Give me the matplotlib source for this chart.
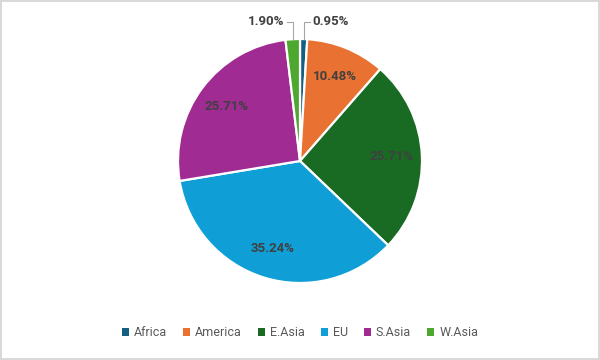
import numpy as np
import matplotlib.pyplot as plt
from matplotlib.patches import Patch

# Data
regions = ["Africa", "America", "E.Asia", "EU", "S.Asia", "W.Asia"]
shares = [0.95, 10.48, 25.71, 35.24, 25.71, 1.90]
colors = ["#156082", "#E97132", "#196B24", "#0F9ED5", "#A02B93", "#4EA72E"]

plt.rcParams['font.family'] = ['Roboto', 'DejaVu Sans']

fig = plt.figure(figsize=(6, 3.6), dpi=100)
fig.patch.set_facecolor("white")
fig.patch.set_edgecolor("#d9d9d9")
fig.patch.set_linewidth(1.5)

ax = fig.add_axes([0, 0, 1, 1])
radius_px = 122.0
cx, cy = 300.0, 161.0

wedges, texts = ax.pie(shares, colors=colors, startangle=90, counterclock=False,
                       radius=1.0, wedgeprops=dict(edgecolor="white", linewidth=1.6))

# labels
start = 90.0
for i, (w, v) in enumerate(zip(wedges, shares)):
    mid = np.deg2rad((w.theta1 + w.theta2) / 2.0)
    label = "%.2f%%" % v
    if v > 5:
        r = 0.75
        ax.text(r * np.cos(mid), r * np.sin(mid), label, ha="center", va="center",
                fontsize=9.5, fontweight="bold", color="#404040")
    else:
        x0, y0 = np.cos(mid), np.sin(mid)
        side = 1 if x0 > 0 else -1
        yl = 1.14
        x1 = x0 + side * 0.05
        ax.plot([x0, x0, x1], [y0, yl, yl], color="#a6a6a6", lw=0.8)
        ax.text(x1 + side * 0.02, yl, label, ha="left" if side > 0 else "right",
                va="center", fontsize=9.5, fontweight="bold", color="#404040")

ax.set_xlim(-cx / radius_px, (600 - cx) / radius_px)
ax.set_ylim(-(360 - cy) / radius_px, cy / radius_px)
ax.set_aspect("auto")
ax.axis("off")

handles = [Patch(facecolor=c, edgecolor="none") for c in colors]
leg = fig.legend(handles, regions, loc="center", bbox_to_anchor=(0.5, 1 - 333 / 360.0),
                 ncol=6, frameon=False, fontsize=9, handlelength=0.55, handleheight=0.55,
                 handletextpad=0.4, columnspacing=1.3, labelcolor="#595959")

fig.savefig("out.png", dpi=100, facecolor=fig.get_facecolor(), edgecolor=fig.get_edgecolor())
